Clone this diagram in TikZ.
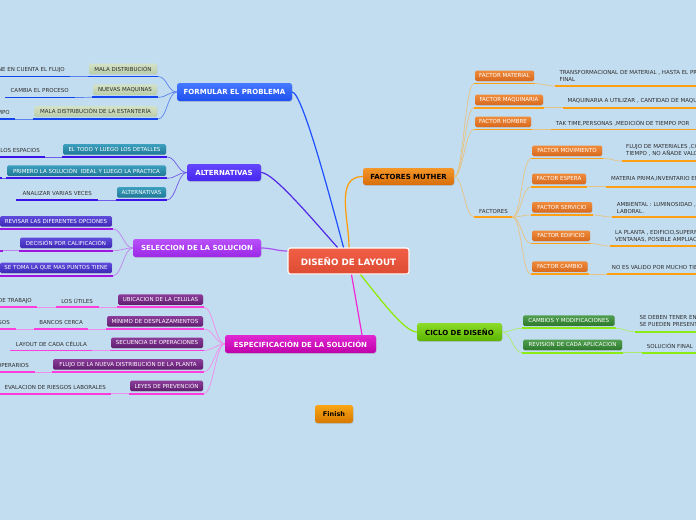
\documentclass[tikz,border=0pt]{standalone}
\usepackage{fontspec}
\setmainfont{DejaVu Sans}
\usetikzlibrary{shadows}
\definecolor{bg}{RGB}{195,221,240}
\definecolor{txtg}{RGB}{45,45,45}
\definecolor{fT}{RGB}{70,120,255}\definecolor{fB}{RGB}{30,80,240}
\definecolor{fL}{RGB}{20,70,240}\definecolor{fC}{RGB}{90,130,240}
\definecolor{fkT}{RGB}{212,226,198}\definecolor{fkB}{RGB}{186,206,170}
\definecolor{aT}{RGB}{100,70,255}\definecolor{aB}{RGB}{70,40,240}
\definecolor{aL}{RGB}{60,20,235}\definecolor{aC}{RGB}{110,90,235}
\definecolor{tT}{RGB}{60,160,190}\definecolor{tB}{RGB}{30,120,150}
\definecolor{sT}{RGB}{185,80,250}\definecolor{sB}{RGB}{155,40,230}
\definecolor{skT}{RGB}{95,75,220}\definecolor{skB}{RGB}{60,40,180}
\definecolor{sL}{RGB}{160,20,225}\definecolor{sC}{RGB}{190,130,240}
\definecolor{eT}{RGB}{225,40,210}\definecolor{eB}{RGB}{190,0,170}
\definecolor{ekT}{RGB}{140,60,155}\definecolor{ekB}{RGB}{95,30,110}
\definecolor{eL}{RGB}{255,60,220}\definecolor{eC}{RGB}{240,140,235}
\definecolor{mT}{RGB}{245,150,40}\definecolor{mB}{RGB}{215,110,10}
\definecolor{okT}{RGB}{240,140,60}\definecolor{okB}{RGB}{215,105,30}
\definecolor{oL}{RGB}{255,160,20}\definecolor{oC}{RGB}{230,195,130}
\definecolor{cT}{RGB}{140,220,40}\definecolor{cB}{RGB}{90,180,0}
\definecolor{gkT}{RGB}{80,160,80}\definecolor{gkB}{RGB}{45,120,45}
\definecolor{gL}{RGB}{140,235,20}\definecolor{gC}{RGB}{170,235,110}
\definecolor{rT}{RGB}{240,95,70}\definecolor{rB}{RGB}{220,75,50}
\definecolor{finT}{RGB}{250,165,20}\definecolor{finB}{RGB}{215,120,0}
\definecolor{mcBlue}{RGB}{30,80,255}\definecolor{mcViol}{RGB}{80,40,230}
\definecolor{mcPurp}{RGB}{170,80,240}\definecolor{mcMag}{RGB}{240,40,210}
\definecolor{mcLime}{RGB}{140,235,0}\definecolor{mcOr}{RGB}{255,155,0}

\newcommand\kid[7]{%
 \pgfmathsetmacro\kw{#5-#4}%
 \node[#2, minimum width=\kw pt] (#1) at ({(#4+#5)/2},{#6-7.75}) {#7};
 \coordinate (#1-l) at ({#4-1},#6);
 \coordinate (#1-r) at ({#5+1},#6);
 \draw[#3] (#1-l) -- (#1-r);
}
\newcommand\gul[5]{%
 \coordinate (#1-l) at (#3,#5);
 \coordinate (#1-r) at (#4,#5);
 \draw[#2] (#1-l) -- (#1-r);
}
\newcommand\lcon[3]{\draw[#1] (#2) .. controls +(-9,0) and +(9,0) .. (#3);}
\newcommand\rcon[3]{\draw[#1] (#2) .. controls +(9,0) and +(-9,0) .. (#3);}

\begin{document}
\begin{tikzpicture}[x=1pt,y=-1pt,
 mainbox/.style={rounded corners=2.5pt, font=\fontsize{7}{8}\selectfont\bfseries, text=white, inner sep=1pt, drop shadow={opacity=0.25,shadow xshift=0.6pt,shadow yshift=-0.8pt}},
 kidbase/.style={rounded corners=1.5pt, font=\fontsize{5.5}{6}\selectfont, text=white, minimum height=10.5, inner sep=1pt, drop shadow={opacity=0.2,shadow xshift=0.4pt,shadow yshift=-0.6pt}},
 fbox/.style={kidbase, top color=fkT, bottom color=fkB, text=txtg},
 tbox/.style={kidbase, top color=tT, bottom color=tB},
 sbox/.style={kidbase, top color=skT, bottom color=skB},
 ebox/.style={kidbase, top color=ekT, bottom color=ekB},
 obox/.style={kidbase, top color=okT, bottom color=okB},
 gbox/.style={kidbase, top color=gkT, bottom color=gkB},
 gtxt/.style={font=\fontsize{5.5}{7}\selectfont, text=txtg, inner sep=0pt, align=left},
 fline/.style={draw=fL, line width=1.8pt},
 aline/.style={draw=aL, line width=1.8pt},
 sline/.style={draw=sL, line width=1.8pt},
 eline/.style={draw=eL, line width=1.8pt},
 oline/.style={draw=oL, line width=1.8pt},
 gline/.style={draw=gL, line width=1.8pt},
 fcon/.style={draw=fC, line width=0.7pt},
 acon/.style={draw=aC, line width=0.7pt},
 scon/.style={draw=sC, line width=0.7pt},
 econ/.style={draw=eC, line width=0.7pt},
 ocon/.style={draw=oC, line width=0.7pt},
 gcon/.style={draw=gC, line width=0.7pt},
 maincon/.style={line width=1.2pt}
]
\useasboundingbox[fill=bg] (0,0) rectangle (696,520);

% ---------- root and main nodes
\node[mainbox, draw=white, line width=1.2pt, top color=rT, bottom color=rB, minimum width=121pt, minimum height=26pt, font=\fontsize{8.8}{10}\selectfont\bfseries] (root) at (348.5,261) {DISEÑO DE LAYOUT};
\node[mainbox, top color=fT, bottom color=fB, minimum width=115pt, minimum height=18pt] (F) at (234.5,92) {FORMULAR EL PROBLEMA};
\node[mainbox, top color=aT, bottom color=aB, minimum width=74pt, minimum height=17pt] (A) at (224,172.5) {ALTERNATIVAS};
\node[mainbox, top color=sT, bottom color=sB, minimum width=128pt, minimum height=18pt] (S) at (197,248) {SELECCION DE LA SOLUCION};
\node[mainbox, top color=eT, bottom color=eB, minimum width=151pt, minimum height=18pt] (E) at (300.5,344) {ESPECIFICACIÓN DE LA SOLUCIÓN};
\node[mainbox, top color=mT, bottom color=mB, text=black, minimum width=91pt, minimum height=17pt] (FM) at (408.5,176.5) {FACTORES MUTHER};
\node[mainbox, top color=cT, bottom color=cB, text=black, minimum width=85pt, minimum height=18pt] (C) at (459.5,332) {CICLO DE DISEÑO};
\node[mainbox, top color=finT, bottom color=finB, text=black, minimum width=38pt, minimum height=18pt, font=\fontsize{6.5}{7}\selectfont\bfseries] (fin) at (334,414) {Finish};

% ---------- main connectors
\draw[maincon, mcBlue] ([xshift=-5pt]root.north) .. controls +(-12,-45) and +(10,0) .. (F.east);
\draw[maincon, mcViol] ([xshift=-11pt]root.north) .. controls +(-25,-28) and +(12,0) .. (A.east);
\draw[maincon, mcPurp] ([yshift=10pt]root.west) to[out=180,in=0] (S.east);
\draw[maincon, mcMag] ([xshift=3pt]root.south) -- ([xshift=61.5pt]E.north);
\draw[maincon, mcLime] ([xshift=12pt]root.south) .. controls +(20,25) and +(-12,0) .. (C.west);
\draw[maincon, mcOr] ([xshift=0.5pt]root.north) to[out=90,in=180] (FM.west);

% ---------- FORMULAR EL PROBLEMA
\kid{f1}{fbox}{fline}{89}{157}{76.5}{MALA DISTRIBUCIÓN}
\kid{f2}{fbox}{fline}{93}{157}{97.3}{NUEVAS MAQUINAS}
\kid{f3}{fbox}{fline}{34}{157}{119}{MALA DISTRIBUCIÓN DE LA ESTANTERÍA}
\gul{g1}{fline}{-5}{70}{76.5}
\gul{g2}{fline}{5}{75}{97.5}
\gul{g3}{fline}{-5}{15}{119}
\node[gtxt, anchor=east] (g1t) at (65,70) {NO SE TIENE EN CUENTA EL FLUJO};
\node[gtxt, anchor=east] (g2t) at (69,90.5) {CAMBIA EL PROCESO};
\node[gtxt, anchor=east] (g3t) at (10,112.5) {TIEMPO};
\lcon{fcon}{F.west}{f1-r}\lcon{fcon}{F.west}{f2-r}\lcon{fcon}{F.west}{f3-r}
\lcon{fcon}{f1-l}{g1-r}\lcon{fcon}{f2-l}{g2-r}\lcon{fcon}{f3-l}{g3-r}

% ---------- ALTERNATIVAS
\kid{a1}{tbox}{aline}{63}{166}{157}{EL TODO Y LUEGO LOS DETALLES}
\kid{a2}{tbox}{aline}{7}{166}{178.3}{PRIMERO LA SOLUCIÓN~ IDEAL Y LUEGO LA PRACTICA}
\kid{a3}{tbox}{aline}{117}{166}{200}{ALTERNATIVAS}
\gul{ga1}{aline}{-5}{45}{157}
\gul{ga2}{aline}{-20}{2}{178.3}
\gul{ga3}{aline}{16}{98}{200}
\node[gtxt, anchor=east] (ga1t) at (40,150.5) {LOS ESPACIOS};
\node[gtxt, anchor=east] (ga3t) at (92,193.5) {ANALIZAR VARIAS VECES};
\lcon{acon}{A.west}{a1-r}\lcon{acon}{A.west}{a2-r}\lcon{acon}{A.west}{a3-r}
\lcon{acon}{a1-l}{ga1-r}\lcon{acon}{a2-l}{ga2-r}\lcon{acon}{a3-l}{ga3-r}

% ---------- SELECCION DE LA SOLUCION
\kid{s1}{sbox}{sline}{0}{112}{229}{REVISAR LAS DIFERENTES OPCIONES}
\kid{s2}{sbox}{sline}{20}{112}{250.7}{DECISIÓN POR CALIFICACIÓN}
\kid{s3}{sbox}{sline}{0}{112}{275.7}{SE TOMA LA QUE MAS PUNTOS TIENE}
\gul{gs2}{sline}{-20}{3}{250.7}
\lcon{scon}{S.west}{s1-r}\lcon{scon}{S.west}{s2-r}\lcon{scon}{S.west}{s3-r}
\lcon{scon}{s2-l}{gs2-r}

% ---------- ESPECIFICACION DE LA SOLUCION
\kid{e1}{ebox}{eline}{118}{203}{307.3}{UBICACION DE LA CELULAS}
\kid{e2}{ebox}{eline}{107}{203}{329}{MÍNIMO DE DESPLAZAMIENTOS}
\kid{e3}{ebox}{eline}{111}{203}{350.5}{SECUENCIA DE OPERACIONES}
\kid{e4}{ebox}{eline}{53}{203}{372}{FLUJO DE LA NUEVA DISTRIBUCIÓN DE LA PLANTA}
\kid{e5}{ebox}{eline}{130}{203}{393.7}{LEYES DE PREVENCIÓN}
\gul{ge1}{eline}{56}{99}{307.3}
\gul{ge1b}{eline}{-5}{37}{307.3}
\gul{ge2}{eline}{34}{88}{329}
\gul{ge2b}{eline}{-5}{15.7}{329}
\gul{ge3}{eline}{10}{92}{350.5}
\gul{ge4}{eline}{-5}{35}{372}
\gul{ge5}{eline}{-5}{111}{393.7}
\node[gtxt, anchor=east] (ge1t) at (93,301) {LOS ÚTILES};
\node[gtxt, anchor=east] (ge1bt) at (32,301) {DE TRABAJO};
\node[gtxt, anchor=east] (ge2t) at (83,322.5) {BANCOS CERCA};
\node[gtxt, anchor=east] (ge2bt) at (10,322.5) {SOS};
\node[gtxt, anchor=east] (ge3t) at (87,344) {LAYOUT DE CADA CÉLULA};
\node[gtxt, anchor=east] (ge4t) at (29,365) {OPERARIOS};
\node[gtxt, anchor=east] (ge5t) at (106,387) {EVALACION DE RIESGOS LABORALES};
\lcon{econ}{E.west}{e1-r}\lcon{econ}{E.west}{e2-r}\lcon{econ}{E.west}{e3-r}
\lcon{econ}{E.west}{e4-r}\lcon{econ}{E.west}{e5-r}
\lcon{econ}{e1-l}{ge1-r}\lcon{econ}{ge1-l}{ge1b-r}
\lcon{econ}{e2-l}{ge2-r}\lcon{econ}{ge2-l}{ge2b-r}
\lcon{econ}{e3-l}{ge3-r}\lcon{econ}{e4-l}{ge4-r}\lcon{econ}{e5-l}{ge5-r}

% ---------- FACTORES MUTHER
\kid{m1}{obox}{oline}{475}{534}{83.5}{FACTOR MATERIAL}
\kid{m2}{obox}{oline}{475}{543}{107.7}{FACTOR MAQUINARIA}
\kid{m3}{obox}{oline}{475}{531}{129.5}{FACTOR HOMBRE}
\gul{mf}{oline}{474}{512.3}{217}
\node[gtxt, anchor=west] (mft) at (479,211) {FACTORES};
\kid{m4}{obox}{oline}{532}{602}{158.5}{FACTOR MOVIMIENTO}
\kid{m5}{obox}{oline}{532}{586}{186.7}{FACTOR ESPERA}
\kid{m6}{obox}{oline}{532}{592}{215}{FACTOR SERVICIO}
\kid{m7}{obox}{oline}{532}{590}{243.5}{FACTOR EDIFICIO}
\kid{m8}{obox}{oline}{532}{587.5}{274.3}{FACTOR CAMBIO}
\gul{gm1}{oline}{555}{700}{86}
\gul{gm2}{oline}{563.3}{700}{107.7}
\gul{gm3}{oline}{550.7}{700}{129.5}
\gul{gm4}{oline}{621.7}{700}{161}
\gul{gm5}{oline}{606}{700}{186.7}
\gul{gm6}{oline}{611.7}{700}{217}
\gul{gm7}{oline}{610}{700}{246}
\gul{gm8}{oline}{606.7}{700}{274.3}
\node[gtxt, anchor=west] (gm1t) at (559.3,76.2) {TRANSFORMACIONAL DE MATERIAL , HASTA EL PRODUCTO\\FINAL};
\node[gtxt, anchor=west] (gm2t) at (567.3,101) {MAQUINARIA A UTILIZAR , CANTIDAD DE MAQUINAS};
\node[gtxt, anchor=west] (gm3t) at (555.7,123.5) {TAK TIME,PERSONAS ,MEDICIÓN DE TIEMPO POR};
\node[gtxt, anchor=west] (gm4t) at (626,150.5) {FLUJO DE MATERIALES ,COSTO\\TIEMPO , NO AÑADE VALOR};
\node[gtxt, anchor=west] (gm5t) at (611,178.5) {MATERIA PRIMA,INVENTARIO EN PROCESO};
\node[gtxt, anchor=west] (gm6t) at (616.7,207.5) {AMBIENTAL : LUMINOSIDAD , RUIDO\\LABORAL.};
\node[gtxt, anchor=west] (gm7t) at (615,236) {LA PLANTA , EDIFICIO,SUPERFICIE\\VENTANAS, POSIBLE AMPLIACIÓN};
\node[gtxt, anchor=west] (gm8t) at (611.7,267.7) {NO ES VALIDO POR MUCHO TIEMPO};
\rcon{ocon}{FM.east}{m1-l}\rcon{ocon}{FM.east}{m2-l}\rcon{ocon}{FM.east}{m3-l}\rcon{ocon}{FM.east}{mf-l}
\rcon{ocon}{mf-r}{m4-l}\rcon{ocon}{mf-r}{m5-l}\rcon{ocon}{mf-r}{m6-l}\rcon{ocon}{mf-r}{m7-l}\rcon{ocon}{mf-r}{m8-l}
\rcon{ocon}{m1-r}{gm1-l}\rcon{ocon}{m2-r}{gm2-l}\rcon{ocon}{m3-r}{gm3-l}\rcon{ocon}{m4-r}{gm4-l}
\rcon{ocon}{m5-r}{gm5-l}\rcon{ocon}{m6-r}{gm6-l}\rcon{ocon}{m7-r}{gm7-l}\rcon{ocon}{m8-r}{gm8-l}

% ---------- CICLO DE DISENO
\kid{c1}{gbox}{gline}{523}{614.5}{328.3}{CAMBIOS Y MODIFICACIONES}
\kid{c2}{gbox}{gline}{523}{622}{352.7}{REVISION DE CADA APLICACION}
\gul{gc1}{gline}{635}{700}{331.7}
\gul{gc2}{gline}{641.7}{700}{352.7}
\node[gtxt, anchor=west] (gc1t) at (639.3,321) {SE DEBEN TENER EN CUENTA\\SE PUEDEN PRESENTAR};
\node[gtxt, anchor=west] (gc2t) at (646.7,345.5) {SOLUCIÓN FINAL};
\rcon{gcon}{C.east}{c1-l}\rcon{gcon}{C.east}{c2-l}
\rcon{gcon}{c1-r}{gc1-l}\rcon{gcon}{c2-r}{gc2-l}
\end{tikzpicture}
\end{document}
